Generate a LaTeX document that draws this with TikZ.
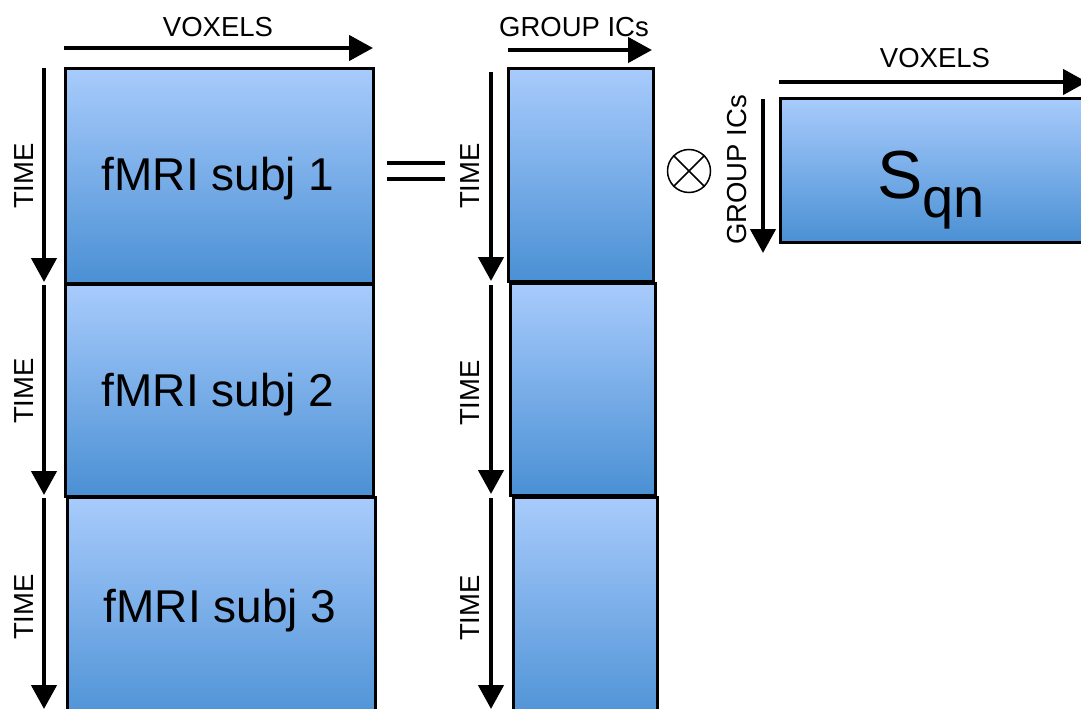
\documentclass[tikz,border=0pt]{standalone}
\usepackage{fontspec}
\setmainfont{Liberation Sans}
\usetikzlibrary{arrows.meta}
\definecolor{boxtop}{RGB}{168,203,252}
\definecolor{boxbot}{RGB}{74,144,212}
\begin{document}
\begin{tikzpicture}[x=1pt,y=-1pt,
  mbox/.style={draw=black,line width=3pt,top color=boxtop,bottom color=boxbot,
    rectangle,inner sep=0pt,anchor=north west},
  axis/.style={line width=4.5pt,-{Triangle[length=24pt,width=25pt]}},
  lab/.style={font=\fontsize{27.5}{30}\selectfont,inner sep=0pt},
  big/.style={font=\fontsize{46}{50}\selectfont,inner sep=0pt,anchor=base}]
\useasboundingbox (0,0) rectangle (1081,709);
\clip (0,0) rectangle (1081,709);
% left column
\node[mbox,minimum width=308pt,minimum height=215pt] (L1) at (64,67) {};
\node[mbox,minimum width=308pt,minimum height=212pt] (L2) at (64,283) {};
\node[mbox,minimum width=308pt,minimum height=232pt] (L3) at (66,496) {};
\node[big] (t1) at (218,190) {fMRI subj 1};
\node[big] (t2) at (218,406) {fMRI subj 2};
\node[big] (t3) at (220,622) {fMRI subj 3};
% middle column
\node[mbox,minimum width=145pt,minimum height=213pt] (M1) at (507,67) {};
\node[mbox,minimum width=145pt,minimum height=212pt] (M2) at (509,282) {};
\node[mbox,minimum width=144pt,minimum height=232pt] (M3) at (512,496) {};
% right box
\node[mbox,minimum width=312pt,minimum height=144pt] (S) at (779,97) {};
\node[inner sep=0pt,anchor=base west] (st) at (877,198)
  {\fontsize{68}{70}\selectfont S\raisebox{-19pt}{\fontsize{56}{60}\selectfont qn}};
% axis coordinates
\coordinate (va1) at (64,48);  \coordinate (vb1) at (373,48);
\coordinate (ga1) at (508,50); \coordinate (gb1) at (652,50);
\coordinate (va2) at (779,82); \coordinate (vb2) at (1087,82);
\coordinate (gv1) at (763,99); \coordinate (gv2) at (763,253);
\coordinate (la1) at (44,68);  \coordinate (lb1) at (44,282);
\coordinate (la2) at (44,285); \coordinate (lb2) at (44,495);
\coordinate (la3) at (44,498); \coordinate (lb3) at (44,709);
\coordinate (ma1) at (491,72);  \coordinate (mb1) at (491,281);
\coordinate (ma2) at (491,285); \coordinate (mb2) at (491,494);
\coordinate (ma3) at (491,498); \coordinate (mb3) at (491,709);
\draw[axis] (va1) -- (vb1);
\draw[axis] (ga1) -- (gb1);
\draw[axis] (va2) -- (vb2);
\draw[axis] (gv1) -- (gv2);
\draw[axis] (la1) -- (lb1);
\draw[axis] (la2) -- (lb2);
\draw[axis] (la3) -- (lb3);
\draw[axis] (ma1) -- (mb1);
\draw[axis] (ma2) -- (mb2);
\draw[axis] (ma3) -- (mb3);
% labels
\node[lab] (vl1) at (218,27) {VOXELS};
\node[lab] (gl1) at (574,27) {GROUP ICs};
\node[lab] (vl2) at (935,58) {VOXELS};
\node[lab,rotate=90] (gl2) at (737,170) {GROUP ICs};
\node[lab,rotate=90] (tl1) at (24,176) {TIME};
\node[lab,rotate=90] (tl2) at (24,391) {TIME};
\node[lab,rotate=90] (tl3) at (24,607) {TIME};
\node[lab,rotate=90] (tm1) at (470,176) {TIME};
\node[lab,rotate=90] (tm2) at (470,393) {TIME};
\node[lab,rotate=90] (tm3) at (470,608) {TIME};
% equals sign
\coordinate (e1a) at (387,163); \coordinate (e1b) at (445,163);
\coordinate (e2a) at (387,179); \coordinate (e2b) at (445,179);
\draw[line width=3.5pt] (e1a) -- (e1b);
\draw[line width=3.5pt] (e2a) -- (e2b);
% otimes
\node[draw,circle,line width=1.5pt,minimum size=43pt,inner sep=0pt] (ot) at (689,171) {};
\draw[line width=1.5pt] (ot.north east) -- (ot.south west);
\draw[line width=1.5pt] (ot.north west) -- (ot.south east);
\end{tikzpicture}
\end{document}
